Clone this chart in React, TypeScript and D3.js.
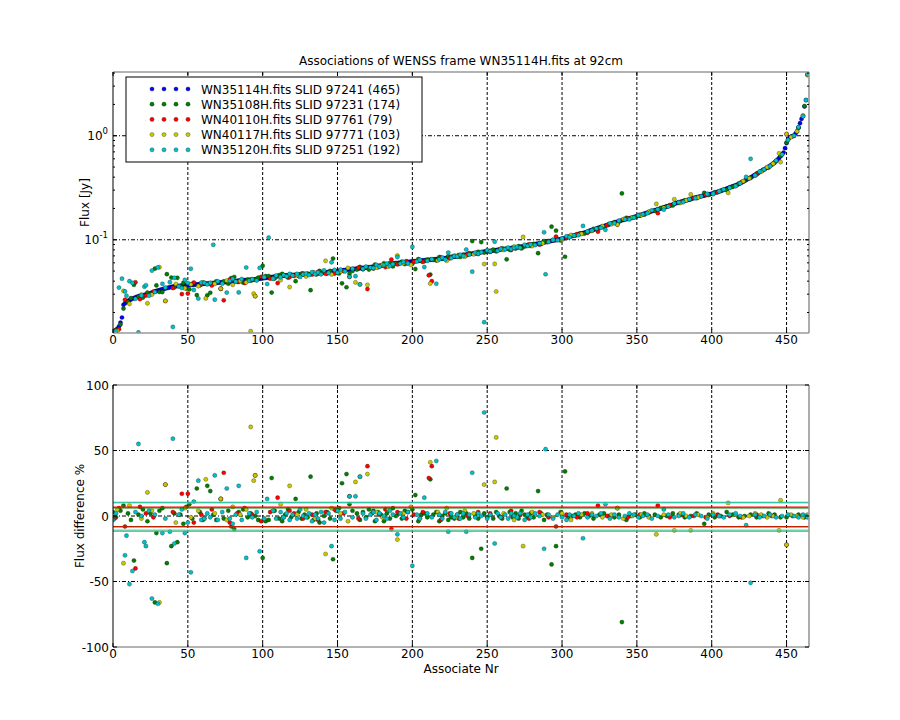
import React from 'react';
import * as d3 from 'd3';

// Flux [Jy] of every associate of the reference frame, sorted (index = Associate Nr)
const mainFlux = [
  0.0128, 0.0131, 0.0135, 0.014, 0.0147, 0.016, 0.0179, 0.0237, 0.0245, 0.0252,
  0.0258, 0.0263, 0.0267, 0.0271, 0.0275, 0.0279, 0.0283, 0.0286, 0.0289, 0.0291,
  0.0293, 0.0295, 0.0297, 0.0299, 0.0302, 0.0306, 0.031, 0.0314, 0.0318, 0.0322,
  0.0325, 0.0328, 0.0331, 0.0334, 0.0337, 0.034, 0.0343, 0.0346, 0.0349, 0.0352,
  0.0354, 0.0356, 0.0358, 0.0359, 0.036, 0.0361, 0.0362, 0.0363, 0.0364, 0.0365,
  0.0366, 0.0367, 0.0368, 0.0369, 0.037, 0.0371, 0.0372, 0.0373, 0.0375, 0.0376,
  0.0377, 0.0378, 0.0379, 0.038, 0.0381, 0.0382, 0.0383, 0.0384, 0.0385, 0.0386,
  0.0387, 0.0388, 0.0389, 0.039, 0.0391, 0.0392, 0.0393, 0.0394, 0.0395, 0.0396,
  0.0397, 0.0399, 0.0401, 0.0403, 0.0405, 0.0406, 0.0407, 0.0408, 0.0409, 0.041,
  0.0411, 0.0412, 0.0413, 0.0414, 0.0415, 0.0416, 0.0418, 0.042, 0.0422, 0.0424,
  0.0426, 0.0428, 0.043, 0.0432, 0.0434, 0.0436, 0.0438, 0.044, 0.0442, 0.0444,
  0.0446, 0.0448, 0.045, 0.0452, 0.0453, 0.0454, 0.0454, 0.0455, 0.0456, 0.0457,
  0.0458, 0.0459, 0.046, 0.0461, 0.0462, 0.0463, 0.0464, 0.0465, 0.0466, 0.0467,
  0.0467, 0.0468, 0.0468, 0.0469, 0.047, 0.0472, 0.0474, 0.0476, 0.0478, 0.048,
  0.0482, 0.0484, 0.0486, 0.0488, 0.049, 0.0492, 0.0494, 0.0496, 0.0498, 0.05,
  0.0502, 0.0504, 0.0506, 0.0508, 0.051, 0.0512, 0.0514, 0.0516, 0.0518, 0.052,
  0.0522, 0.0524, 0.0526, 0.0528, 0.053, 0.0532, 0.0534, 0.0536, 0.0538, 0.054,
  0.0542, 0.0544, 0.0546, 0.0548, 0.0551, 0.0554, 0.0557, 0.056, 0.0563, 0.0566,
  0.0569, 0.0572, 0.0575, 0.0578, 0.0581, 0.0584, 0.0587, 0.059, 0.0593, 0.0596,
  0.0598, 0.06, 0.0602, 0.0604, 0.0606, 0.0608, 0.061, 0.0612, 0.0614, 0.0617,
  0.0619, 0.0621, 0.0623, 0.0625, 0.0627, 0.0629, 0.0631, 0.0633, 0.0635, 0.0637,
  0.0639, 0.0641, 0.0643, 0.0645, 0.0647, 0.0649, 0.0651, 0.0653, 0.0655, 0.0657,
  0.066, 0.0663, 0.0666, 0.0669, 0.0672, 0.0676, 0.068, 0.0684, 0.0688, 0.0692,
  0.0696, 0.07, 0.0704, 0.0708, 0.0712, 0.0716, 0.072, 0.0724, 0.0728, 0.0732,
  0.0736, 0.074, 0.0744, 0.0748, 0.0752, 0.0756, 0.076, 0.0764, 0.0768, 0.0772,
  0.0775, 0.0778, 0.0781, 0.0784, 0.0788, 0.0792, 0.0796, 0.08, 0.0804, 0.0808,
  0.0812, 0.0815, 0.0818, 0.0821, 0.0824, 0.0827, 0.083, 0.0833, 0.0836, 0.084,
  0.0845, 0.085, 0.0855, 0.086, 0.0865, 0.087, 0.0875, 0.088, 0.0886, 0.0892,
  0.0898, 0.0903, 0.0908, 0.0912, 0.0918, 0.0924, 0.093, 0.0937, 0.0944, 0.0951,
  0.0958, 0.0964, 0.097, 0.0976, 0.0982, 0.0988, 0.0994, 0.1, 0.1007, 0.1014,
  0.102, 0.103, 0.104, 0.105, 0.106, 0.107, 0.108, 0.109, 0.11, 0.111,
  0.112, 0.113, 0.114, 0.115, 0.116, 0.117, 0.118, 0.119, 0.121, 0.123,
  0.124, 0.125, 0.126, 0.128, 0.13, 0.131, 0.133, 0.134, 0.135, 0.137,
  0.138, 0.14, 0.141, 0.143, 0.145, 0.146, 0.148, 0.149, 0.151, 0.152,
  0.154, 0.155, 0.157, 0.158, 0.159, 0.16, 0.162, 0.163, 0.165, 0.167,
  0.168, 0.17, 0.172, 0.174, 0.176, 0.178, 0.18, 0.182, 0.184, 0.186,
  0.188, 0.19, 0.192, 0.194, 0.196, 0.198, 0.2, 0.203, 0.205, 0.207,
  0.209, 0.211, 0.213, 0.215, 0.218, 0.221, 0.224, 0.227, 0.229, 0.231,
  0.233, 0.235, 0.237, 0.239, 0.241, 0.243, 0.246, 0.249, 0.252, 0.254,
  0.256, 0.258, 0.26, 0.262, 0.264, 0.266, 0.268, 0.271, 0.273, 0.275,
  0.277, 0.28, 0.283, 0.286, 0.289, 0.292, 0.295, 0.298, 0.302, 0.306,
  0.31, 0.314, 0.318, 0.322, 0.326, 0.33, 0.334, 0.338, 0.343, 0.349,
  0.355, 0.362, 0.369, 0.376, 0.383, 0.39, 0.397, 0.405, 0.413, 0.421,
  0.429, 0.438, 0.447, 0.456, 0.465, 0.474, 0.484, 0.494, 0.504, 0.515,
  0.526, 0.54, 0.555, 0.57, 0.59, 0.61, 0.635, 0.66, 0.69, 0.76,
  0.85, 0.92, 0.96, 0.98, 0.99, 1.0, 1.05, 1.1, 1.2, 1.32,
  1.45, 1.55, 1.91, 2.2, 3.86,
];

// [associate nr, flux difference %] for each matched frame
const greenPts: [number, number][] = [
  [0, 3], [2, -1], [5, 4], [7, 8], [10, 2], [12, -3], [14, -34], [17, 1], [20, 5], [23, -4],
  [25, 2], [28, -66], [29, -13], [31, 4], [33, 6], [36, -36], [39, -23], [41, 2], [43, -20], [45, 1],
  [47, -6], [49, 7], [51, 9], [53, -2], [56, 21], [58, 3], [60, -3], [61, -2], [63, 23], [65, 19],
  [67, 1], [69, -3], [72, 13], [74, -2], [77, 4], [79, -8], [81, -10], [84, 3], [87, 5], [90, -1],
  [92, 2], [95, 0], [97, -3], [100, -32], [102, -4], [104, -3], [106, 29], [108, 4], [111, -2], [113, -4],
  [115, 1], [117, 5], [119, -1], [122, 13], [124, 3], [126, -2], [128, 1], [130, -1], [132, 30], [134, -3],
  [136, 2], [138, -5], [141, 0], [143, 3], [145, -2], [147, -33], [149, 4], [151, 6], [153, 25], [156, 32],
  [158, 9], [160, 4], [163, 2], [165, -3], [167, 3], [169, -1], [171, 5], [173, 2], [175, -4], [177, 3],
  [179, 1], [181, -4], [183, 2], [185, -2], [187, 6], [189, 0], [191, 2], [193, -2], [195, 4], [197, 3],
  [200, 5], [202, 16], [204, -4], [206, 1], [208, 2], [210, -1], [212, 28], [214, 1], [216, 3], [218, -4],
  [220, 0], [222, 2], [224, -3], [226, -1], [228, -2], [230, 1], [232, 3], [234, -1], [236, 2], [238, -2],
  [240, -32], [242, 1], [244, -2], [246, -25], [248, 2], [250, -1], [252, 1], [254, -2], [256, 3], [258, 0],
  [260, -2], [263, 21], [265, 3], [267, -1], [269, 2], [271, -2], [273, 4], [275, 1], [277, -1], [279, 2],
  [281, -1], [284, 19], [286, 2], [288, -3], [290, 1], [293, -37], [296, -23], [299, 3], [302, 34], [304, -1],
  [307, 0], [309, 1], [312, -1], [315, 2], [318, 0], [321, -2], [325, 1], [328, 2], [331, 0], [335, -1],
  [338, 1], [340, -81], [343, -3], [346, 0], [349, 1], [352, -1], [355, 2], [358, 0], [362, 1], [366, -1],
  [370, 0], [374, 2], [378, 1], [382, -1], [386, 0], [390, 2], [395, -6], [398, 1], [402, -1], [406, 0],
  [410, 3], [414, 1], [418, -1], [422, 0], [426, 1], [430, -1], [434, 0], [438, 2], [442, 1], [446, -1],
  [450, -1], [454, 0], [458, 1], [462, -1],
];

const redPts: [number, number][] = [
  [1, -2], [4, 6], [8, -8], [15, -40], [18, 7], [22, 2], [27, -1], [35, 24], [40, 3], [46, 17],
  [50, 17], [54, -5], [59, 1], [66, 5], [72, 13], [74, 33], [78, -5], [83, 2], [88, 6], [93, 1],
  [95, 31], [99, -4], [105, 3], [110, 14], [114, -1], [118, 4], [121, 2], [127, -2], [133, 1], [137, -3],
  [142, 3], [148, 5], [154, 2], [158, 15], [164, -2], [170, 38], [174, 4], [178, 1], [182, 5], [186, -10],
  [190, 3], [196, -2], [201, 1], [207, 3], [211, 29], [213, 38], [219, -3], [225, 2], [231, -2], [237, 0],
  [244, 3], [252, 2], [259, -1], [266, 4], [272, 1], [278, -2], [285, 3], [291, -1], [296, -8], [303, 1],
  [310, -1], [317, 2], [324, 8], [330, 0], [337, 6], [344, -1], [352, 1], [358, 0], [364, 8], [372, -1],
  [380, 1], [388, 0], [396, -1], [404, 1], [412, 0], [420, -1], [430, 1], [440, 0], [450, -22],
];

const yellowPts: [number, number][] = [
  [3, 5], [7, -36], [11, 8], [19, -2], [23, 18], [26, 4], [31, -66], [35, 24], [42, -5], [48, 6],
  [52, -1], [57, 4], [62, 28], [68, 2], [72, 13], [76, -3], [80, 7], [85, 1], [89, 5], [92, 68],
  [94, 27], [95, 31], [101, -2], [107, 4], [112, 9], [118, 23], [123, 1], [129, 5], [135, -2], [142, -29],
  [146, 6], [152, 2], [157, -4], [162, 26], [165, 30], [170, 32], [176, 3], [180, -1], [184, 5], [190, -18],
  [194, 2], [199, 7], [205, -2], [212, 41], [217, 3], [223, 6], [229, -1], [235, 4], [241, 2], [248, 24],
  [255, 26], [256, 60], [261, 2], [268, -3], [274, -23], [280, 3], [287, 1], [294, -1], [300, 2], [306, -3],
  [313, 1], [320, 2], [327, -1], [333, 1], [337, 6], [341, -2], [347, 0], [353, 1], [358, -1], [363, -14],
  [368, 1], [375, -11], [379, 2], [383, 0], [386, -11], [391, 1], [397, -1], [401, 2], [405, 0], [411, 10],
  [416, 1], [421, -1], [425, 0], [429, 2], [433, 1], [437, -1], [441, 0], [445, -11], [446, 12], [450, -22],
  [453, 1], [457, 0], [461, -1], [464, 1],
];

const cyanPts: [number, number][] = [
  [0, -3], [2, 2], [4, -136], [6, -136], [8, -30], [9, -15], [11, -52], [13, -42], [15, 3], [17, 55],
  [19, 0], [21, -20], [22, -23], [24, 4], [26, -63], [28, 1], [30, -67], [33, -13], [35, -2], [38, -12],
  [40, 59], [41, -21], [44, 1], [46, 5], [48, -13], [50, -5], [52, -43], [54, 11], [57, 27], [59, -3],
  [61, -2], [63, 2], [65, -1], [67, -133], [68, 31], [70, -3], [73, 3], [76, 21], [78, -2], [80, -6],
  [82, 1], [84, 23], [86, -3], [89, -32], [91, 2], [93, -1], [96, 3], [98, -27], [101, -2], [103, 13],
  [104, -142], [107, 4], [109, -2], [112, 3], [114, -1], [116, 2], [118, -3], [120, 1], [123, -2], [125, 5],
  [127, 0], [129, -1], [131, 2], [133, -4], [135, 1], [137, -2], [139, 3], [141, -5], [144, 2], [146, -23],
  [148, -3], [150, 4], [152, -2], [155, 3], [158, 15], [160, -1], [162, 15], [165, 30], [167, 2], [169, -2],
  [172, 1], [174, 3], [176, -3], [178, 2], [181, 0], [183, -2], [185, 4], [187, 1], [190, -14], [192, 2],
  [194, -1], [197, 3], [200, -38], [203, 1], [205, -2], [208, 14], [210, 2], [213, -1], [216, 42], [218, 1],
  [220, -2], [222, 3], [224, -12], [226, 2], [228, -1], [230, 1], [232, -2], [234, 2], [236, -12], [238, 1],
  [240, 33], [242, -1], [244, 2], [246, 0], [248, 79], [250, -2], [252, 1], [255, -21], [257, 2], [259, -1],
  [262, 1], [264, -2], [266, 2], [268, 0], [270, -1], [272, 2], [275, -3], [277, 1], [279, -1], [282, 2],
  [285, 0], [288, -25], [289, 51], [291, 1], [294, -2], [297, 1], [300, -1], [303, -3], [305, 1], [308, 0],
  [311, 2], [314, -17], [317, -1], [320, 1], [323, 0], [326, 2], [329, 9], [332, -2], [335, 1], [338, -1],
  [342, 0], [345, 2], [348, 1], [351, -1], [354, 0], [357, 1], [360, -2], [364, 0], [368, 5], [371, 1],
  [375, -1], [378, 0], [381, 2], [385, -1], [389, 1], [393, 0], [397, -2], [401, 1], [405, 0], [408, -1],
  [412, 1], [416, 2], [419, 0], [423, -7], [426, -51], [429, 1], [432, -1], [435, 0], [439, 1], [443, -1],
  [447, 0], [451, 1], [455, 0], [458, -1], [461, 1], [463, 0], [464, -1],
];

// spread levels (%) drawn as horizontal lines in the lower panel
const greenLevels = [6.1, -8.1];
const redLevels = [6.7, -8.2];
const yellowLevels = [10.0, -10.7];
const cyanLevels = [10.5, -11.5];

const legendLabels = [
  'WN35114H.fits SLID 97241 (465)',
  'WN35108H.fits SLID 97231 (174)',
  'WN40110H.fits SLID 97761 (79)',
  'WN40117H.fits SLID 97771 (103)',
  'WN35120H.fits SLID 97251 (192)',
];
const colors = ['#0000ff', '#007f00', '#ff0000', '#c8c800', '#00c0c8'];

const xTicks = [0, 50, 100, 150, 200, 250, 300, 350, 400, 450];
const fluxTicks = [0.1, 1];
const fluxTickExp = ['-1', '0'];
const diffTicks = [-100, -50, 0, 50, 100];

const FONT = "'DejaVu Sans', sans-serif";

const App: React.FC = () => {
  const left = 113;
  const right = 809;
  const top1 = 72;
  const bot1 = 333;
  const top2 = 385;
  const bot2 = 647;

  const x = d3.scaleLinear().domain([0, 465]).range([left, right]);
  const yF = d3.scaleLog().domain([0.0127, 4.1]).range([bot1, top1]);
  const yD = d3.scaleLinear().domain([-100, 100]).range([bot2, top2]);

  const others = [
    { pts: greenPts, color: colors[1], levels: greenLevels },
    { pts: redPts, color: colors[2], levels: redLevels },
    { pts: yellowPts, color: colors[3], levels: yellowLevels },
    { pts: cyanPts, color: colors[4], levels: cyanLevels },
  ];

  // minor log ticks between decades
  const minorF: number[] = [];
  [0.01, 0.1, 1].forEach((dec) => {
    for (let k = 2; k <= 9; k++) {
      const v = dec * k;
      if (v > 0.0127 && v < 4.1) minorF.push(v);
    }
  });

  const dot = (cx: number, cy: number, fill: string, key: string) => (
    <circle key={key} cx={cx} cy={cy} r={2.1} fill={fill} stroke="#000" strokeWidth={0.45} strokeOpacity={0.6} />
  );

  const xAxisTicks = (yTop: number, yBot: number) =>
    xTicks.map((t) => (
      <g key={'xt' + t}>
        <line x1={x(t)} x2={x(t)} y1={yBot} y2={yBot - 4} stroke="#000" />
        <line x1={x(t)} x2={x(t)} y1={yTop} y2={yTop + 4} stroke="#000" />
        <text x={x(t)} y={yBot + 11} textAnchor="middle" fontSize={12}>
          {t}
        </text>
      </g>
    ));

  const vGrid = (yTop: number, yBot: number) =>
    xTicks
      .filter((t) => t > 0)
      .map((t) => (
        <line key={'vg' + t} x1={x(t)} x2={x(t)} y1={yTop} y2={yBot} stroke="#000" strokeWidth={1} strokeDasharray="3,2" />
      ));

  const frame = (yTop: number, yBot: number) => (
    <g>
      <line x1={left} x2={right} y1={yTop} y2={yTop} stroke="#999" strokeWidth={1.6} />
      <line x1={right} x2={right} y1={yTop} y2={yBot} stroke="#999" strokeWidth={1.6} />
      <line x1={left} x2={right} y1={yBot} y2={yBot} stroke="#999" strokeWidth={1.6} />
      <line x1={left} x2={left} y1={yTop} y2={yBot} stroke="#000" strokeWidth={1} />
    </g>
  );

  return (
    <svg
      width={900}
      height={720}
      style={{ position: 'absolute', left: 0, top: 0, background: '#fff' }}
      fontFamily={FONT}
    >
      <defs>
        <clipPath id="clipTop">
          <rect x={left} y={top1} width={right - left} height={bot1 - top1} />
        </clipPath>
        <clipPath id="clipBot">
          <rect x={left} y={top2} width={right - left} height={bot2 - top2} />
        </clipPath>
      </defs>
      <rect width={900} height={720} fill="#fff" />

      <text x={(left + right) / 2} y={65} textAnchor="middle" fontSize={12}>
        Associations of WENSS frame WN35114H.fits at 92cm
      </text>

      {/* ---------- top panel: flux ---------- */}
      {vGrid(top1, bot1)}
      {fluxTicks.map((t) => (
        <line key={'hg' + t} x1={left} x2={right} y1={yF(t)} y2={yF(t)} stroke="#000" strokeDasharray="4,2,1,2" />
      ))}
      <g clipPath="url(#clipTop)">
        {mainFlux.map((f, i) => dot(x(i), yF(f), colors[0], 'm' + i))}
        {others.map((s, si) =>
          s.pts.map(([i, d]) => dot(x(i), yF(mainFlux[i] * (1 - d / 100)), s.color, 'o' + si + '_' + i)),
        )}
      </g>
      {frame(top1, bot1)}
      {xAxisTicks(top1, bot1)}
      {fluxTicks.map((t, k) => (
        <g key={'yt' + t}>
          <line x1={left} x2={left + 4} y1={yF(t)} y2={yF(t)} stroke="#000" />
          <line x1={right - 4} x2={right} y1={yF(t)} y2={yF(t)} stroke="#000" />
          <text x={left - 5} y={yF(t) + 4} textAnchor="end" fontSize={12}>
            10
            <tspan fontSize={8.5} dy={-6}>
              {fluxTickExp[k]}
            </tspan>
          </text>
        </g>
      ))}
      {minorF.map((t) => (
        <g key={'mt' + t}>
          <line x1={left} x2={left + 2} y1={yF(t)} y2={yF(t)} stroke="#000" />
          <line x1={right - 2} x2={right} y1={yF(t)} y2={yF(t)} stroke="#000" />
        </g>
      ))}
      <text transform={`translate(89,${(top1 + bot1) / 2}) rotate(-90)`} textAnchor="middle" fontSize={12}>
        Flux [Jy]
      </text>

      {/* legend */}
      <rect x={126} y={77} width={296} height={85} fill="#fff" stroke="#000" strokeWidth={1} />
      {legendLabels.map((lab, k) => {
        const ly = 89 + k * 15.2;
        return (
          <g key={'lg' + k}>
            {[152, 164, 176, 188].map((lx) => dot(lx, ly, colors[k], 'ld' + k + lx))}
            <text x={201} y={ly + 4.5} fontSize={12}>
              {lab}
            </text>
          </g>
        );
      })}

      {/* ---------- bottom panel: flux difference ---------- */}
      {vGrid(top2, bot2)}
      {diffTicks
        .filter((t) => t > -100 && t < 100)
        .map((t) => (
          <line key={'hd' + t} x1={left} x2={right} y1={yD(t)} y2={yD(t)} stroke="#000" strokeDasharray="4,2,1,2" />
        ))}
      <g clipPath="url(#clipBot)">
        {others.map((s, si) => s.pts.map(([i, d]) => dot(x(i), yD(d), s.color, 'd' + si + '_' + i)))}
        {others.map((s, si) =>
          s.levels.map((lv, li) => (
            <line key={'lv' + si + li} x1={left} x2={right} y1={yD(lv)} y2={yD(lv)} stroke={s.color} strokeWidth={1.2} />
          )),
        )}
      </g>
      {frame(top2, bot2)}
      {xAxisTicks(top2, bot2)}
      {diffTicks.map((t) => (
        <g key={'dt' + t}>
          <line x1={left} x2={left + 4} y1={yD(t)} y2={yD(t)} stroke="#000" />
          <line x1={right - 4} x2={right} y1={yD(t)} y2={yD(t)} stroke="#000" />
          <text x={left - 4} y={yD(t) + 4.5} textAnchor="end" fontSize={12}>
            {t}
          </text>
        </g>
      ))}
      <text transform={`translate(84,${(top2 + bot2) / 2}) rotate(-90)`} textAnchor="middle" fontSize={12}>
        Flux difference %
      </text>
      <text x={(left + right) / 2} y={673} textAnchor="middle" fontSize={12}>
        Associate Nr
      </text>
    </svg>
  );
};

export default App;
